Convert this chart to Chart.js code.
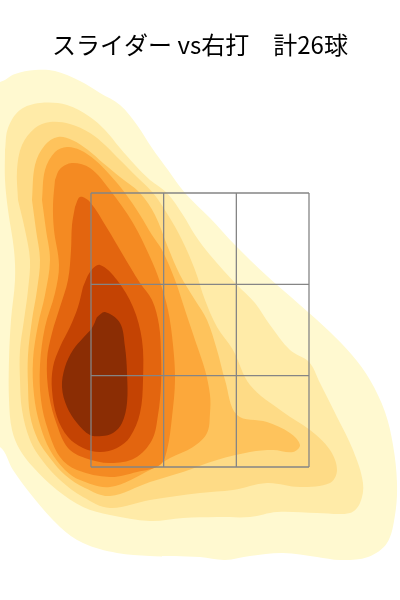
<!DOCTYPE html>
<html>
<head>
<meta charset="utf-8">
<script src="https://cdn.jsdelivr.net/npm/chart.js@4.4.0/dist/chart.umd.min.js"></script>
<style>
  html, body { margin: 0; padding: 0; background: #fff; }
  #wrap { width: 400px; height: 600px; }
</style>
</head>
<body>
<div id="wrap"><canvas id="myChart"></canvas></div>
<script>
// pitch location density, slider vs right-handed batters
// x: cm from plate centre (catcher view), y: height in cm
var titleText = 'スライダー vs右打\u3000計26球';

// strike zone edges and thirds
var zoneX = [-21.8, -7.27, 7.27, 21.8];
var zoneY = [50, 68.27, 86.53, 104.8];

// contour levels, outermost first
var level1 = [[-44, 127], [-40, 127], [-37, 128.6], [-33, 129.4], [-29, 129.2], [-24, 127.2], [-20, 124.8],
    [-16, 122.4], [-12.6, 118.4], [-9.6, 113.8], [-6.4, 109.4], [-3, 104.8], [2, 99.8], [7, 94.4], [13.4, 88.2],
    [20, 82.4], [26, 77], [30.4, 72.4], [34, 67.4], [37, 61], [38.6, 54.4], [39.4, 46.8], [39, 40.4], [37.4, 34.8],
    [33.6, 32], [28, 31.4], [23.4, 32], [16.6, 32.8], [10, 32.2], [5, 31.4], [0, 32], [-10, 32.2], [-16.6, 32.8],
    [-23.4, 34.8], [-28, 38], [-33.4, 44], [-37.4, 49.4], [-40, 54], [-44, 54]];
var level2 = [[-39, 113.4], [-38.4, 117.8], [-36, 121.4], [-32, 122.8], [-26.6, 122.4], [-22, 120], [-19, 117.4],
    [-16, 113.8], [-13, 110.4], [-10, 107.4], [-6.6, 104.8], [-3.4, 100.4], [-1, 96.4], [2, 92.4], [7.4, 86.4],
    [11, 82.8], [14, 78.4], [18, 73.4], [21.8, 71], [24, 66.8], [27.4, 60], [30.6, 53.4], [32.6, 46.8], [32, 42.8],
    [30, 40.8], [23.4, 40.8], [15.4, 41], [10, 40], [3.4, 40], [-3.4, 39.8], [-10, 39.2], [-18, 40.4], [-23.4, 42],
    [-28.6, 45.4], [-33.4, 50], [-36, 53.4], [-37.6, 57.4], [-38.2, 63.4], [-38.2, 71.4], [-37.8, 79.4],
    [-37, 87.4], [-37.2, 93.4], [-38.4, 101.4], [-39, 107.4]];
var level3 = [[-36.4, 103.4], [-36.6, 109.4], [-35.6, 114.4], [-33, 117.8], [-30, 119], [-26, 118.6], [-22, 116.8],
    [-19, 114.4], [-16, 111.4], [-12.6, 108], [-9.4, 104.8], [-6.4, 100.4], [-3.6, 95.4], [-1, 89.4], [1, 83.4],
    [3.4, 78], [6.6, 73.4], [10, 66.4], [16.6, 61], [22, 57.4], [26, 53.4], [27.4, 49.4], [26, 46.8], [20, 46],
    [13.4, 46.8], [6.6, 45.4], [0, 44.8], [-10, 43.4], [-18, 41.8], [-23.4, 44], [-28, 47.4], [-31.6, 51.4],
    [-34, 55.4], [-35.6, 61.4], [-36, 67.4], [-36, 73.4], [-35.2, 79.4], [-34.4, 85.4], [-34, 91.4], [-35, 97.4]];
var level4 = [[-33.6, 103.4], [-33, 110.4], [-31, 114.4], [-28.4, 116], [-25.6, 115.4], [-22.4, 113.4],
    [-19.4, 110.8], [-16, 108], [-12, 104.8], [-9, 100.4], [-6.6, 94.4], [-4, 88.4], [-1, 83.4], [1.4, 79.4],
    [3.4, 73.4], [5, 67.4], [7.4, 60.4], [13.4, 59], [18, 56.8], [20, 54.4], [18.6, 53], [14.6, 53.4], [10, 53],
    [3.4, 51.4], [-3.4, 49], [-10, 47], [-18, 44.2], [-23, 45.8], [-27, 48.4], [-30, 51.8], [-32.4, 55.4],
    [-34, 60.4], [-34.4, 66.4], [-34.4, 72.4], [-33.6, 79.4], [-32.6, 85.4], [-32, 91.4], [-32.8, 97.4]];
var level5 = [[-31.6, 103.4], [-31, 109.4], [-29, 113], [-26.6, 114], [-24, 113.4], [-21, 111.4], [-18, 108.4],
    [-15, 104.8], [-12, 100.4], [-9.6, 96.4], [-7.6, 93.4], [-5, 87.4], [-3, 81.4], [-1, 75.4], [1, 69.4],
    [2, 64.4], [2, 60.8], [1.4, 56.8], [-1.4, 54], [-6, 51.8], [-10, 49.4], [-18, 46], [-24, 47.4], [-27, 49.4],
    [-30, 53.4], [-32, 58.4], [-33.2, 64.4], [-33.4, 71.4], [-32.4, 78.4], [-31, 84.4], [-30, 91.4], [-30.8, 97.4]];
var level6 = [[-29, 107.4], [-28, 109.6], [-25.6, 110.8], [-22, 109.8], [-18, 105.4], [-13.4, 98.8], [-10, 92],
    [-8, 87], [-6.4, 81.4], [-5.4, 74.4], [-5, 67.4], [-5.6, 60], [-6.6, 53.4], [-8, 50.4], [-12.6, 49], [-18, 48],
    [-24.6, 49.4], [-28, 52], [-30.4, 57.4], [-31.8, 63.4], [-32, 70.4], [-31, 78], [-29, 84.8], [-28.2, 90.4],
    [-29.2, 97.4], [-29.4, 102.4]];
var level7 = [[-25, 102], [-24, 104], [-22, 103], [-18.6, 97.8], [-15.4, 92.4], [-12, 86.8], [-9.6, 83.4],
    [-8.2, 78.4], [-7.8, 72.4], [-7.8, 66.4], [-8.4, 60.4], [-9.6, 55.4], [-13, 51.8], [-18, 50.8], [-23, 51.8],
    [-26.4, 53.8], [-28.6, 58.4], [-30.2, 64.4], [-30.6, 71.4], [-29.6, 76.8], [-28, 82], [-26.4, 87.4],
    [-25.8, 93.4], [-25.6, 98.4]];
var level8 = [[-23.4, 86], [-22, 89], [-20, 90.4], [-16.6, 87.4], [-13.4, 82], [-11.6, 75.4], [-11.4, 67.4],
    [-12, 60.8], [-14, 56], [-16.6, 53.8], [-20, 53], [-23.4, 53.8], [-26.4, 56], [-28.6, 60], [-29.6, 65.4],
    [-29.4, 70], [-28, 74], [-26, 78], [-24.4, 82]];
var level9 = [[-20.6, 80], [-19, 81], [-16, 78.8], [-15, 74], [-14.6, 68.8], [-14.6, 62.8], [-15.6, 58.8],
    [-17.4, 56.8], [-19.6, 56.2], [-22, 56.4], [-24.6, 58.8], [-26.6, 62], [-27.6, 66], [-27, 70], [-25.4, 73.4],
    [-23.4, 75.8], [-21.6, 77.8]];

var levelColors = ['#FFF9D0', '#FFEBA8', '#FEDB86', '#FEC35C', '#FCA83B', '#F48A22', '#E3650F', '#C44303', '#8B2D04'];

var levels = [level1, level2, level3, level4, level5, level6, level7, level8, level9];

var datasets = levels.map(function (pts, i) {
    var data = pts.map(function (p) { return { x: p[0], y: p[1] }; });
    data.push(data[0]);
    return {
        data: data,
        showLine: true,
        fill: 'shape',
        backgroundColor: levelColors[i],
        borderWidth: 0,
        pointRadius: 0,
        tension: 0.35,
        order: levels.length - i + 1
    };
});

// strike zone grid
zoneX.forEach(function (x) {
    datasets.push({
        data: [{ x: x, y: zoneY[0] }, { x: x, y: zoneY[3] }],
        showLine: true, fill: false, borderColor: '#858585', borderWidth: 1.3, pointRadius: 0, order: 0
    });
});
zoneY.forEach(function (y) {
    datasets.push({
        data: [{ x: zoneX[0], y: y }, { x: zoneX[3], y: y }],
        showLine: true, fill: false, borderColor: '#858585', borderWidth: 1.3, pointRadius: 0, order: 0
    });
});

var ctx = document.getElementById('myChart').getContext('2d');
var chart = new Chart(ctx, {
    type: 'scatter',
    data: { datasets: datasets },
    options: {
        responsive: true,
        maintainAspectRatio: false,
        animation: false,
        layout: { padding: 0 },
        scales: {
            x: { type: 'linear', min: -40, max: 40, display: false },
            y: { type: 'linear', min: 23.4, max: 130, display: false }
        },
        plugins: {
            legend: { display: false },
            tooltip: { enabled: false },
            title: {
                display: true,
                text: titleText,
                color: '#000',
                font: { family: '"Noto Sans CJK JP", "Noto Sans", sans-serif', size: 24, weight: 'normal' },
                padding: { top: 30, bottom: 8.2 }
            }
        }
    }
});
</script>
</body>
</html>
